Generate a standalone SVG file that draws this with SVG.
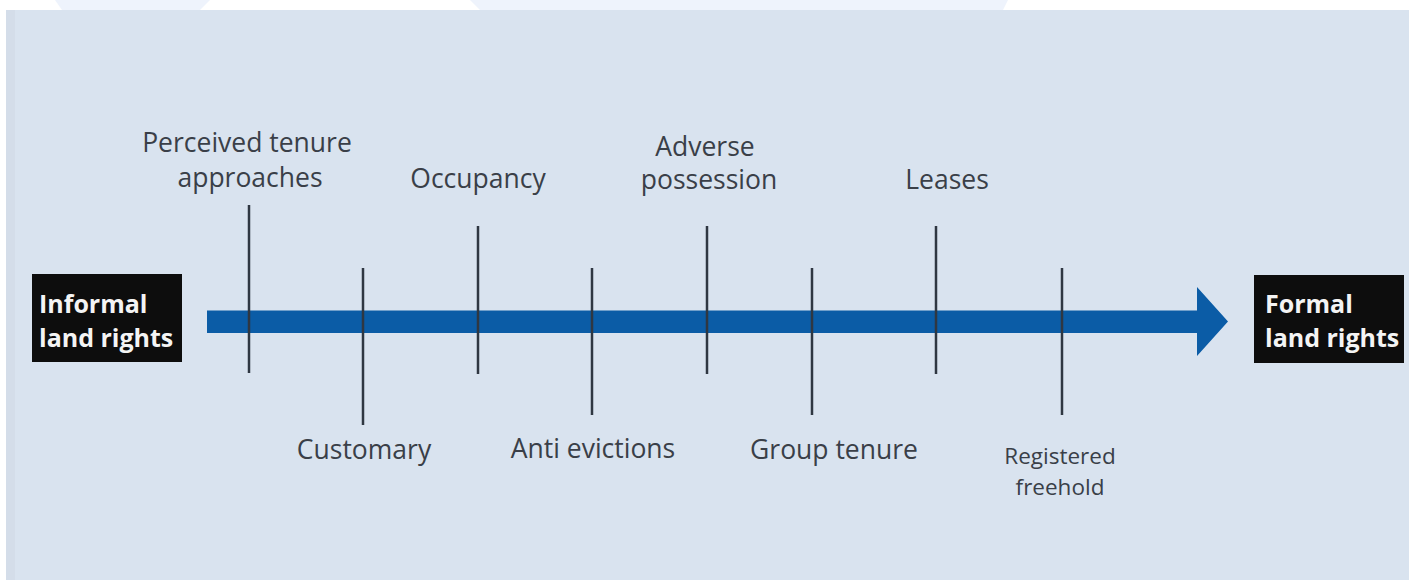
<svg xmlns="http://www.w3.org/2000/svg" width="1409" height="580" viewBox="0 0 1409 580">
  <style>
    .lbl { font-family: "Open Sans", "Liberation Sans", sans-serif; font-size: 26.5px; fill: #3a3f48; text-anchor: middle; }
    .lbl-sm { font-size: 22.5px; }
    .box { fill: #0d0d0d; }
    .boxtxt { font-family: "Open Sans", "Liberation Sans", sans-serif; font-size: 25px; font-weight: bold; fill: #f4f4f4; }
    .tick { stroke: #2f3742; stroke-width: 2.5; }
  </style>
  <rect x="0" y="0" width="1409" height="580" fill="#ffffff"/>
  <path d="M55 0 H210 L200 10 H62 Z" fill="#eef3fc"/>
  <path d="M470 0 H1008 L1003 10 H480 Z" fill="#eef3fc"/>
  <rect x="6" y="10" width="1403" height="570" fill="#d9e3ef"/>
  <rect x="6" y="10" width="9" height="570" fill="#d4dde9"/>

  <g id="connectors">
    <path d="M207 310.5 H1197 V287 L1228 321.5 L1197 356 V333 H207 Z" fill="#0b5ca6"/>
    <line class="tick" x1="249" y1="205" x2="249" y2="373"/>
    <line class="tick" x1="363" y1="268" x2="363" y2="425"/>
    <line class="tick" x1="478" y1="226" x2="478" y2="374"/>
    <line class="tick" x1="592" y1="268" x2="592" y2="415"/>
    <line class="tick" x1="707" y1="226" x2="707" y2="374"/>
    <line class="tick" x1="812" y1="268" x2="812" y2="415"/>
    <line class="tick" x1="936" y1="226" x2="936" y2="374"/>
    <line class="tick" x1="1062" y1="268" x2="1062" y2="415"/>
  </g>

  <g id="informal">
    <rect class="box" x="32" y="274" width="150" height="88"/>
    <text class="boxtxt" x="39" y="313">Informal</text>
    <text class="boxtxt" x="39" y="347">land rights</text>
  </g>
  <g id="formal">
    <rect class="box" x="1254" y="275" width="150" height="88"/>
    <text class="boxtxt" x="1265" y="313">Formal</text>
    <text class="boxtxt" x="1265" y="347">land rights</text>
  </g>

  <g id="perceived">
    <text class="lbl" x="247" y="152">Perceived tenure</text>
    <text class="lbl" x="250" y="187">approaches</text>
  </g>
  <g id="occupancy">
    <text class="lbl" x="478" y="188">Occupancy</text>
  </g>
  <g id="adverse">
    <text class="lbl" x="705" y="156">Adverse</text>
    <text class="lbl" x="709" y="189">possession</text>
  </g>
  <g id="leases">
    <text class="lbl" x="947" y="189">Leases</text>
  </g>
  <g id="customary">
    <text class="lbl" x="364" y="459">Customary</text>
  </g>
  <g id="anti-evictions">
    <text class="lbl" x="593" y="458">Anti evictions</text>
  </g>
  <g id="group-tenure">
    <text class="lbl" x="834" y="459">Group tenure</text>
  </g>
  <g id="registered-freehold">
    <text class="lbl lbl-sm" x="1060" y="463.5">Registered</text>
    <text class="lbl lbl-sm" x="1060" y="494.5">freehold</text>
  </g>
</svg>
